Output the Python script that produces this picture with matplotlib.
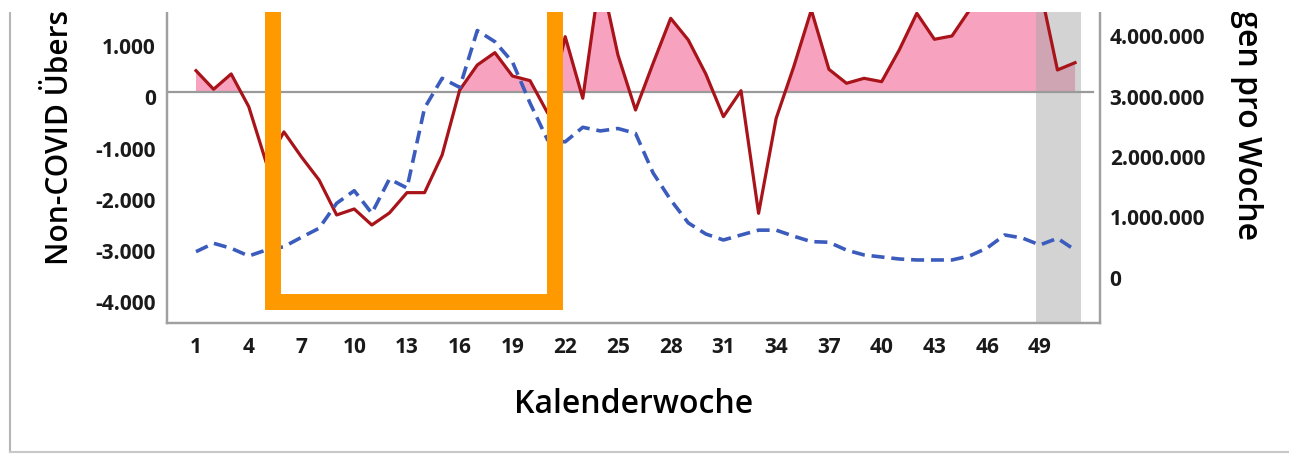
import matplotlib
matplotlib.use("Agg")
import matplotlib.pyplot as plt
from matplotlib.lines import Line2D
from matplotlib.patches import Rectangle
from matplotlib.ticker import FuncFormatter
from matplotlib.transforms import ScaledTranslation
import numpy as np

plt.rcParams['font.family'] = ['Open Sans', 'DejaVu Sans']

# calendar weeks 1..51
weeks = list(range(1, 52))

# Non-COVID excess deaths per week (left axis)
excess = [416, 53, 352, -287, -1387, -780, -1270, -1719, -2402, -2285,
          -2598, -2363, -1966, -1966, -1230, 39, 527, 768, 312, 221,
          -410, 1080, -123, 2300, 723, -352, 560, 1439, 1016, 350,
          -482, 25, -2370, -514, 494, 1600, 443, 170, 267, 201,
          820, 1537, 1029, 1094, 1600, 1900, 2200, 2400, 2050, 430, 572]

# tests per week (right axis)
tests = [344000, 483000, 400000, 273000, 372000, 426000, 582000, 731000, 1144000, 1352000,
         979000, 1545000, 1397000, 2719000, 3210000, 3060000, 4000000, 3815000, 3480000, 2800000,
         2190000, 2160000, 2400000, 2340000, 2380000, 2300000, 1645000, 1200000, 820000, 636000,
         537000, 620000, 700000, 700000, 600000, 510000, 500000, 370000, 290000, 256000,
         223000, 207000, 207000, 207000, 273000, 405000, 620000, 570000, 455000, 565000, 372000]

xticks = list(range(1, 50, 3))
left_ticks = [1000, 0, -1000, -2000, -3000, -4000]
right_ticks = [0, 1000000, 2000000, 3000000, 4000000]

shade_weeks = (48.8, 51.35)      # grey band (incomplete weeks)
box_weeks = (5.4, 21.4)          # orange highlight box
box_bottom = -4110

W, H = 1289, 454
fig = plt.figure(figsize=(W / 100, H / 100), dpi=100)
fig.patch.set_facecolor('white')

ax = fig.add_axes([167 / W, (H - 323) / H, (1100 - 167) / W, (323 - 12) / H])
ax2 = ax.twinx()

def de_fmt(v, pos):
    return f"{v:,.0f}".replace(",", ".")

x = np.array(weeks)
y = np.array(excess)

ax.fill_between(x, y, 0, where=y > 0, interpolate=True, color='#f7a3bf', lw=0, zorder=1)
ax.axvspan(*shade_weeks, color='#a8a8a8', alpha=0.5, lw=0, zorder=2)
ax.axhline(0, xmax=0.992, color='#9a9a9a', lw=1.6, zorder=3)
ax.plot(x, y, color='#a8141a', lw=2.3, zorder=5)

ax2.plot(x, tests, color='#3b5cbd', lw=2.6, dashes=(3.6, 1.9), zorder=3)

ax.set_xlim(-0.65, 52.42)
ax.set_ylim(-4512, 1562)
ax2.set_ylim(-835000, 4306000)

# orange highlight box, drawn on top of both axes in left-axis units
box = Line2D([box_weeks[0], box_weeks[0], box_weeks[1], box_weeks[1]],
             [5000, box_bottom, box_bottom, 5000], transform=ax.transData,
             color='#ff9900', lw=11.5, solid_joinstyle='miter', clip_on=False, zorder=10)
ax2.add_artist(box)

ax.set_xticks(xticks)
ax.set_yticks(left_ticks)
ax2.set_yticks(right_ticks)
ax.yaxis.set_major_formatter(FuncFormatter(de_fmt))
ax2.yaxis.set_major_formatter(FuncFormatter(de_fmt))

ax.tick_params(axis='x', length=0, pad=10, labelsize=15)
ax.tick_params(axis='y', length=0, pad=8, labelsize=15)
ax2.tick_params(axis='y', length=0, pad=7, labelsize=15)

shift = ScaledTranslation(0, -5.5 / 100, fig.dpi_scale_trans)
for lab in ax.get_xticklabels() + ax.get_yticklabels() + ax2.get_yticklabels():
    lab.set_fontweight('bold')
    lab.set_color('#1a1a1a')
for lab in ax.get_yticklabels() + ax2.get_yticklabels():
    lab.set_transform(lab.get_transform() + shift)

for a in (ax, ax2):
    a.spines['top'].set_visible(False)
    for s in ('left', 'right', 'bottom'):
        a.spines[s].set_color('#a0a0a0')
        a.spines[s].set_linewidth(1.6)

ax.set_xlabel("Kalenderwoche", fontsize=23, fontweight='semibold', labelpad=22)

fig.text(60 / W, (H - 265) / H, "Non-COVID Übersterblichkeit", rotation=90,
         ha='center', va='bottom', fontsize=21.5, fontweight='semibold')
fig.text(1246 / W, (H - 240) / H, "Anzahl Testungen pro Woche", rotation=270,
         ha='center', va='bottom', fontsize=23, fontweight='semibold')

# screenshot crop: white strip on top, frame lines left and bottom
fig.add_artist(Rectangle((0, (H - 12) / H), 1, 12 / H, transform=fig.transFigure,
                         facecolor='white', edgecolor='none', zorder=20))
fig.add_artist(Line2D([10 / W, 10 / W], [(H - 12) / H, (H - 452) / H],
                      transform=fig.transFigure, color='#b5b5b5', lw=1.5))
fig.add_artist(Line2D([10 / W, 1.0], [(H - 452) / H, (H - 452) / H],
                      transform=fig.transFigure, color='#c8c8c8', lw=1.5))

fig.savefig("out.png", dpi=100)
